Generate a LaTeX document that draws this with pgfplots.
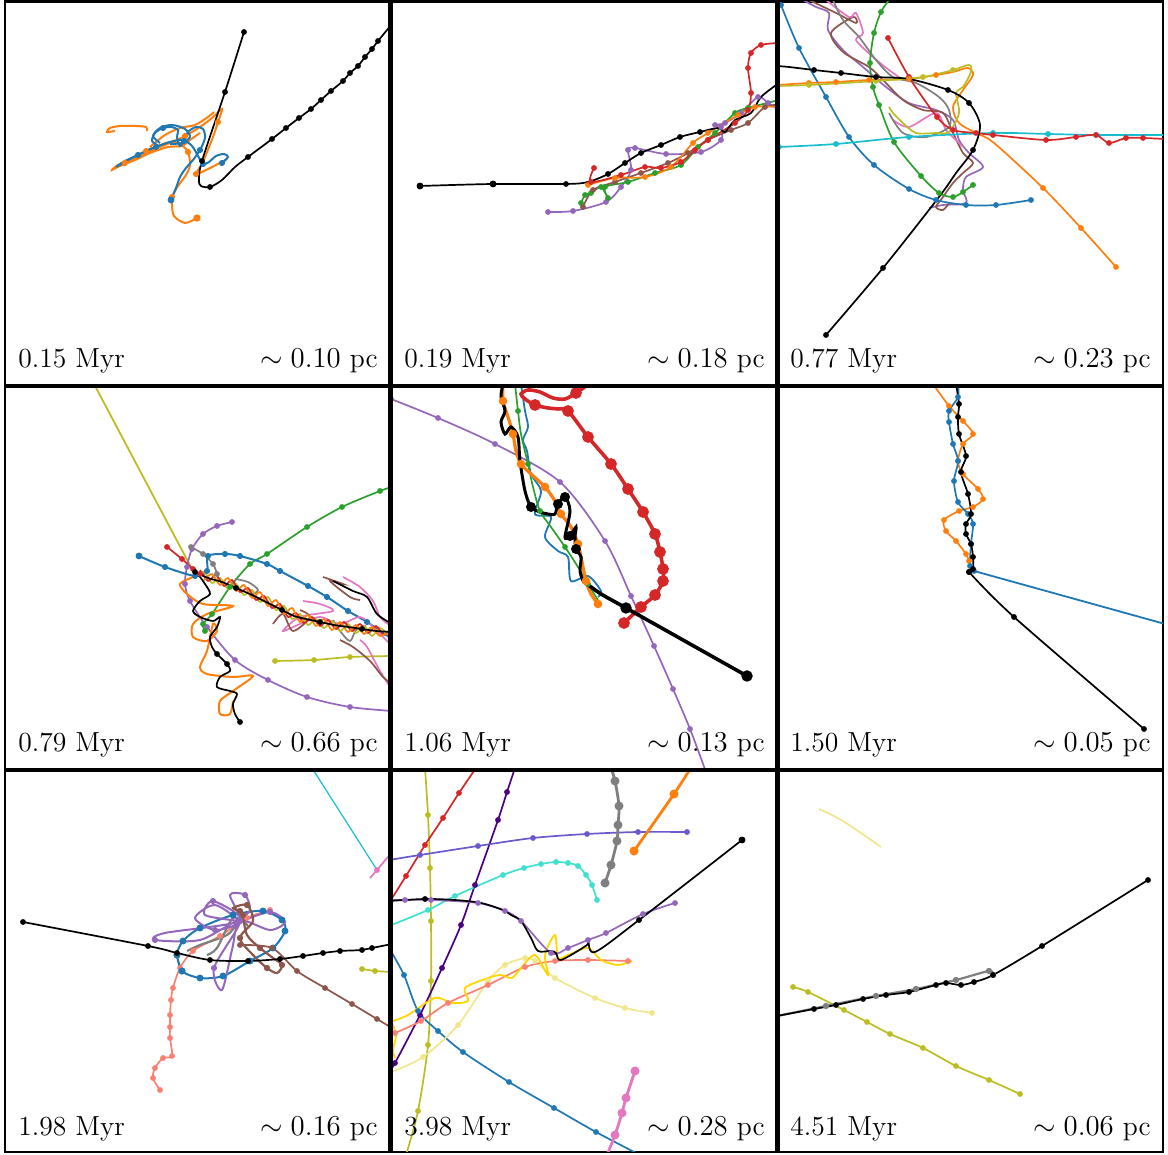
\documentclass[border=0pt]{standalone}
\usepackage{pgfplots}
\pgfplotsset{compat=1.18}

% matplotlib-like palette
\definecolor{tblue}{HTML}{1F77B4}
\definecolor{torange}{HTML}{FF7F0E}
\definecolor{tgreen}{HTML}{2CA02C}
\definecolor{tred}{HTML}{D62728}
\definecolor{tpurple}{HTML}{9467BD}
\definecolor{tbrown}{HTML}{8C564B}
\definecolor{tpink}{HTML}{E377C2}
\definecolor{tgray}{HTML}{7F7F7F}
\definecolor{tolive}{HTML}{BCBD22}
\definecolor{tcyan}{HTML}{17BECF}
\definecolor{csalmon}{HTML}{FA8072}
\definecolor{cgold}{HTML}{FFD700}
\definecolor{ckhaki}{HTML}{F0E68C}
\definecolor{cturq}{HTML}{40E0D0}
\definecolor{cindigo}{HTML}{4B0082}
\definecolor{cslate}{HTML}{6A5ACD}

\pgfplotsset{
  base/.style={anchor=south west, scale only axis, y dir=reverse,
    xtick=\empty, ytick=\empty, axis line style={line width=1.3pt}, clip=true},
  trj/.style={smooth, line width=0.85pt, mark=*, mark size=1pt},
  tng/.style={smooth, line width=0.85pt, mark=none},
  thk/.style={smooth, line width=1.4pt, mark=*, mark size=1.7pt},
}
\tikzset{lab/.style={font=\fontsize{13.8}{16}\selectfont, inner sep=0pt}}

\begin{document}
\begin{tikzpicture}

% ---------------- row 1, panel 1 ----------------
\begin{axis}[base, at={(2.5pt,384.5pt)}, width=192.75pt, height=192.25pt,
  xmin=5, xmax=390.5, ymin=1.5, ymax=386]
\addplot[tng, torange, line width=1pt, mark=*, mark size=1pt, mark repeat=4] coordinates {
 (197,218) (185,223) (174,216) (172,205) (172,197) (178,186) (186,175) (190,165)
 (188,152) (180,144) (170,142) (158,146) (146,151) (132,158) (118,165) (112,170)
 (125,163) (140,156) (155,149) (170,143) (185,136) (200,127) (212,118) (222,109)
 (218,122) (213,137) (207,152) (202,164) (196,174) (206,170) (216,165) (226,160)};
\addplot[tng, torange, line width=1pt] coordinates {
 (147,131) (146,127) (135,126) (120,126) (110,128) (107,132) (115,131)};
\addplot[tng, torange, line width=1pt] coordinates {
 (150,147) (165,135) (180,128) (195,125) (208,117) (214,112)};
\addplot[tng, torange, line width=1pt] coordinates {
 (117,167) (135,160) (150,153) (168,147) (182,146) (190,140) (200,133)};
\addplot[only marks, mark=*, mark size=1.6pt, torange] coordinates {(197,218)};
\addplot[tng, tblue, line width=1pt, mark=*, mark size=1pt, mark repeat=5] coordinates {
 (171,200) (176,188) (180,177) (186,168) (193,160) (200,150) (205,138) (203,129)
 (196,127) (188,132) (184,141) (180,146) (177,137) (178,130) (171,127) (163,128)
 (155,133) (152,141) (158,146) (150,149) (138,155) (125,161) (116,167) (128,160)
 (142,153) (156,147) (170,142) (183,140) (192,146) (198,156) (203,164) (209,162)
 (216,156) (224,154) (228,157) (222,163)};
\addplot[tng, tblue, line width=1pt] coordinates {
 (160,143) (153,136) (160,128) (172,125) (185,129) (190,137) (182,143) (170,144)};
\addplot[only marks, mark=*, mark size=1.5pt, tblue] coordinates {(171,200)};
\addplot[trj, black, mark indices={1,2,3,6,9,10,11,12,13,14,15,16,17,18,19,20,21}] coordinates {
 (244,32) (225,92) (202,161) (199,180) (201,186) (210,187) (222,180) (235,167)
 (248,157) (272,139) (286,128) (299,118) (311,109) (321,100) (331,91) (343,81)
 (350,73) (358,66) (365,57) (372,49) (378,41) (392,24)};
\node[lab, anchor=base west] at (axis cs:18,368) {0.15 Myr};
\node[lab, anchor=base east] at (axis cs:378,368) {$\sim 0.10$ pc};
\end{axis}

% ---------------- row 1, panel 2 ----------------
\begin{axis}[base, at={(195.25pt,384.5pt)}, width=193.5pt, height=192.25pt,
  xmin=390.5, xmax=777.5, ymin=1.5, ymax=386]
\addplot[trj, tpurple] coordinates {
 (548,212) (573,211) (606,202) (621,187) (631,170) (628,150) (635,148) (666,154)
 (701,152) (721,140) (721,127) (715,125) (725,123) (741,113) (758,97) (768,103) (779,110)};
\addplot[trj, tgreen] coordinates {
 (581,203) (585,195) (591,193) (601,187) (608,198) (605,187) (628,182) (655,173)
 (681,165) (698,147) (715,133) (735,113) (748,108) (779,100)};
\addplot[trj, tbrown] coordinates {
 (583,207) (593,190) (615,182) (641,173) (668,163) (688,153) (708,140) (731,130)
 (748,123) (765,107) (779,105)};
\addplot[trj, torange] coordinates {
 (588,185) (615,178) (645,177) (671,167) (693,143) (708,133) (738,115) (755,107) (779,107)};
\addplot[trj, tred] coordinates {
 (594,168) (591,182) (621,175) (645,167) (661,168) (681,162) (695,150) (708,140)
 (735,123) (748,110) (751,93) (748,68) (751,53) (761,45) (779,43)};
\addplot[trj, black, mark indices={1,2,3,5,6,7,8,9,10}] coordinates {
 (420,186) (493,184) (566,184) (588,182) (608,174) (625,163) (641,153) (661,145)
 (680,137) (700,132) (718,128) (725,132) (735,120) (751,113) (761,97) (779,83)};
\addplot[only marks, mark=*, mark size=1.5pt, black] coordinates {(420,186) (493,184)};
\node[lab, anchor=base west] at (axis cs:404,368) {0.19 Myr};
\node[lab, anchor=base east] at (axis cs:765,368) {$\sim 0.18$ pc};
\end{axis}

% ---------------- row 1, panel 3 ----------------
\begin{axis}[base, at={(388.75pt,384.5pt)}, width=192.75pt, height=192.25pt,
  xmin=777.5, xmax=1163, ymin=1.5, ymax=386]
\addplot[tng, tpurple] coordinates {
 (803,0) (816,7) (829,13) (828,30) (843,50) (863,67) (886,87) (909,103) (936,110)
 (953,120) (959,140) (969,153) (983,167) (966,177) (963,190) (966,203) (943,205) (929,208)};
\addplot[tng, tbrown] coordinates {
 (809,0) (836,13) (856,23) (853,17) (831,33) (843,52) (869,67) (883,80) (903,100)
 (923,110) (943,113) (953,133) (963,153) (973,163) (963,173) (953,183) (943,197)
 (936,207) (943,210) (949,203)};
\addplot[tng, tpink] coordinates {
 (826,0) (849,17) (856,13) (863,33) (856,40) (873,57) (889,70) (903,80)};
\addplot[tng, tpink] coordinates {
 (893,120) (909,127) (936,113) (946,130) (956,140) (963,147)};
\addplot[tng, tgray] coordinates {
 (833,0) (843,20) (859,37) (876,60) (893,77) (916,83) (939,97) (949,110) (949,127)
 (926,137) (903,133) (889,113)};
\addplot[trj, tblue] coordinates {
 (781,5) (799,48) (826,97) (849,137) (874,165) (909,189) (936,200) (966,205) (996,205) (1031,200)};
\addplot[trj, tgreen] coordinates {
 (889,0) (881,12) (874,33) (870,63) (873,87) (879,105) (894,142) (921,176) (939,193)
 (953,197) (963,192) (973,185)};
\addplot[trj, tcyan] coordinates {
 (779,147) (836,144) (909,137) (993,133) (1048,134) (1096,135) (1165,135)};
\addplot[trj, tred] coordinates {
 (888,38) (909,77) (937,117) (953,130) (976,133) (993,135) (1046,140) (1076,137)
 (1096,135) (1109,143) (1126,138) (1143,138) (1165,139)};
\addplot[trj, torange, mark indices={1,2,3,4,5,14,15,16,17}] coordinates {
 (777,85) (809,83) (836,82) (869,80) (909,79) (936,75) (953,72) (968,68) (973,75)
 (963,90) (953,107) (959,123) (976,133) (994,143) (1043,188) (1081,228) (1116,267)};
\addplot[trj, tolive, mark indices={1,2,3,4}] coordinates {
 (777,86) (809,85) (876,81) (923,77) (953,70) (969,65) (971,72) (963,87) (956,93)
 (959,113) (949,132) (936,133) (916,133) (903,123) (893,113) (889,107)};
\addplot[trj, black, mark indices={2,3,4,6,7,9,12,13,14}] coordinates {
 (777,66) (789,67) (814,70) (841,73) (876,77) (909,79) (948,90) (969,103) (980,125)
 (973,150) (956,173) (939,197) (883,268) (826,335)};
\node[lab, anchor=base west] at (axis cs:790,368) {0.77 Myr};
\node[lab, anchor=base east] at (axis cs:1151,368) {$\sim 0.23$ pc};
\end{axis}

% ---------------- row 2, panel 1 ----------------
\begin{axis}[base, at={(2.5pt,192.5pt)}, width=192.75pt, height=192pt,
  xmin=5, xmax=390.5, ymin=386, ymax=770]
\addplot[line width=0.9pt, tolive] coordinates {(94,384) (193,571)};
\addplot[trj, tolive] coordinates {(275,661) (314,660) (350,657) (392,656)};
\addplot[trj, tpurple] coordinates {
 (232,522) (217,526) (203,534) (192,549) (187,567) (185,584) (190,601) (207,627)
 (235,660) (268,680) (307,697) (350,707) (392,711)};
\addplot[trj, tgreen] coordinates {
 (205,631) (203,624) (212,614) (230,587) (250,564) (267,554) (307,527) (342,507) (380,491) (392,487)};
\addplot[trj, tblue, line width=1pt] coordinates {
 (139,556) (165,567) (195,576) (207,571) (208,556) (225,554) (240,556) (267,564)
 (280,571) (308,586) (327,597) (348,611) (367,622) (392,639)};
\addplot[only marks, mark=*, mark size=1.5pt, tblue] coordinates {(139,556)};
\addplot[trj, tred] coordinates {(167,547) (182,559) (193,569) (200,574)};
\addplot[trj, tgray] coordinates {(191,547) (203,554) (213,564) (217,574)};
% tangled bundle
\addplot[tng, tpink] coordinates {
 (303,601) (320,604) (333,611) (300,617) (283,631) (300,624) (320,617) (340,624)
 (360,617) (373,627) (383,637) (392,646)};
\addplot[tng, tpink] coordinates {(343,577) (360,587) (373,601) (380,617) (388,624)};
\addplot[tng, tpink] coordinates {(360,640) (367,647) (380,671) (392,690)};
\addplot[tng, tbrown] coordinates {(323,577) (343,584) (330,581) (350,597) (360,600)};
\addplot[tng, tbrown] coordinates {(340,640) (353,647) (370,661) (383,677) (392,684)};
\addplot[tng, tbrown] coordinates {(273,624) (283,614) (293,631) (310,617) (300,610)};
\addplot[tng, tgray] coordinates {(333,620) (340,631) (350,641) (356,630) (366,626)};
\addplot[tng, tgray] coordinates {(235,579) (248,582) (258,590) (250,596)};
\addplot[tng, black] coordinates {(333,581) (353,591) (367,597) (377,614) (392,624)};
\addplot[tng, tolive] coordinates {
 (196,576) (204,572) (212,583) (220,578) (228,589) (236,584) (244,595) (252,590)
 (260,602) (268,597) (276,610) (284,606) (292,619) (300,614) (308,625) (316,619)
 (324,628) (332,621) (340,631) (348,624) (356,633) (364,626) (372,636) (380,628) (392,638)};
\addplot[tng, tred] coordinates {
 (200,570) (208,581) (216,575) (224,586) (232,580) (240,592) (248,588) (256,600)
 (264,596) (272,608) (280,604) (288,617) (296,613) (304,623) (312,617) (320,626)
 (328,620) (336,629) (344,622) (352,631) (360,624) (368,633) (376,626) (384,635) (392,628)};
\addplot[tng, torange] coordinates {
 (204,580) (212,574) (220,585) (228,578) (236,591) (244,585) (252,598) (260,592)
 (268,606) (276,600) (284,614) (292,608) (300,622) (308,615) (316,626) (324,619)
 (332,630) (340,622) (348,632) (356,625) (364,634) (372,627) (380,636) (392,630)};
\addplot[trj, black, mark repeat=3] coordinates {
 (195,572) (208,578) (222,582) (236,588) (252,595) (268,603) (282,610) (294,616)
 (306,619) (320,622) (334,625) (348,627) (362,629) (376,631) (392,632)};
\addplot[tng, torange, line width=1pt] coordinates {
 (203,572) (193,577) (180,584) (187,594) (203,604) (233,606) (207,614) (193,624)
 (193,637) (207,641) (217,631) (213,624) (207,651) (200,667) (207,674) (233,677)
 (253,676) (233,691) (220,701) (220,714) (230,714) (233,701)};
\addplot[trj, black, mark indices={13,14,22}] coordinates {
 (195,572) (200,577) (205,584) (210,594) (200,601) (193,611) (200,617) (213,621)
 (220,617) (217,627) (210,637) (212,647) (217,654) (227,664) (230,671) (220,677)
 (217,687) (230,691) (237,694) (233,704) (235,714) (240,722)};
\node[lab, anchor=base west] at (axis cs:18,752) {0.79 Myr};
\node[lab, anchor=base east] at (axis cs:378,752) {$\sim 0.66$ pc};
\end{axis}

% ---------------- row 2, panel 2 ----------------
\begin{axis}[base, at={(195.25pt,192.5pt)}, width=193.5pt, height=192pt,
  xmin=390.5, xmax=777.5, ymin=386, ymax=770]
\addplot[trj, tpurple] coordinates {
 (391,399) (438,418) (495,444) (560,482) (605,541) (631,596) (654,646) (673,689) (690,729) (706,772)};
\addplot[tng, tblue, line width=0.9pt] coordinates {
 (521,384) (525,411) (528,427) (523,440) (527,451) (531,474) (541,491) (535,514)
 (551,517) (545,537) (558,551) (568,557) (571,581) (588,576) (601,591) (598,597)};
\addplot[trj, tgreen, mark repeat=2] coordinates {
 (515,384) (518,411) (521,434) (528,464) (533,487) (540,511) (551,527) (565,547)
 (578,567) (588,584) (601,605)};
\addplot[thk, torange, line width=1.6pt, mark size=1.3pt, mark repeat=2] coordinates {
 (503,384) (503,401) (508,417) (513,434) (516,451) (521,464) (531,474) (545,487)
 (555,501) (561,514) (571,527) (578,544) (581,557) (586,581) (591,594) (598,604)};
\addplot[thk, tred, line width=1.8pt, mark size=2pt,
  mark indices={1,2,3,4,5,6,7,8,9,10,11,12,15,22}] coordinates {
 (624,623) (641,607) (655,595) (663,581) (663,569) (660,552) (655,534) (643,512)
 (628,489) (611,464) (588,437) (568,411) (558,409) (548,408) (535,405) (525,399)
 (521,394) (528,390) (540,392) (553,398) (565,399) (576,393) (586,386) (590,382)};
\addplot[thk, black, line width=1.5pt, mark indices={4,7,10,11,15}] coordinates {
 (583,581) (580,571) (581,557) (576,549) (575,537) (576,527) (570,536) (565,537)
 (570,511) (565,497) (558,504) (555,514) (548,514) (540,512) (531,507) (525,491)
 (520,461) (518,437) (511,427) (505,434) (501,422) (505,411) (501,397) (503,384)};
\addplot[thk, black, line width=1.8pt, mark size=1.9pt, mark indices={1,2}] coordinates {
 (747,676) (626,608) (601,594) (583,581)};
\node[lab, anchor=base west] at (axis cs:404,752) {1.06 Myr};
\node[lab, anchor=base east] at (axis cs:765,752) {$\sim 0.13$ pc};
\end{axis}

% ---------------- row 2, panel 3 ----------------
\begin{axis}[base, at={(388.75pt,192.5pt)}, width=192.75pt, height=192pt,
  xmin=777.5, xmax=1163, ymin=386, ymax=770]
\addplot[trj, torange] coordinates {
 (933,384) (949,406) (963,421) (973,434) (963,444) (958,461) (963,474) (978,489)
 (983,499) (973,507) (959,511) (944,520) (946,531) (956,541) (966,554) (969,561)};
\addplot[trj, tblue] coordinates {
 (958,384) (958,397) (949,411) (949,422) (953,444) (958,461) (954,481) (958,502)
 (968,514) (973,524) (971,544) (970,566) (974,571)};
\addplot[line width=0.9pt, tblue] coordinates {(974,571) (1165,624)};
\addplot[trj, black] coordinates {
 (956,384) (959,404) (958,417) (959,434) (966,456) (961,472) (968,494) (971,514)
 (966,524) (966,534) (971,544) (973,557) (973,569) (969,572)};
\addplot[trj, black, smooth=false] coordinates {(969,572) (1014,617) (1144,729)};
\node[lab, anchor=base west] at (axis cs:790,752) {1.50 Myr};
\node[lab, anchor=base east] at (axis cs:1151,752) {$\sim 0.05$ pc};
\end{axis}

% ---------------- row 3, panel 1 ----------------
\begin{axis}[base, at={(2.5pt,1.5pt)}, width=192.75pt, height=191pt,
  xmin=5, xmax=390.5, ymin=770, ymax=1152]
\addplot[line width=0.6pt, tcyan] coordinates {(312,768) (377,870)};
\addplot[trj, tpink, mark indices={2}] coordinates {(370,878) (377,870) (392,852)};
\addplot[trj, tolive] coordinates {(362,969) (375,971) (392,972)};
\addplot[trj, csalmon] coordinates {
 (270,910) (247,918) (220,936) (193,951) (180,968) (173,988) (171,1000) (170,1015)
 (170,1027) (170,1038) (172,1056) (163,1058) (155,1068) (153,1078) (160,1090)};
\addplot[trj, tblue, line width=1pt, mark size=1.2pt] coordinates {
 (177,955) (182,971) (200,978) (223,976) (250,961) (273,948) (285,931) (282,920)
 (263,911) (233,915) (200,928) (183,941) (177,955) (182,971)};
\addplot[tng, tgray, line width=1.1pt] coordinates {
 (187,951) (200,945) (227,935) (240,921) (247,925) (233,918) (217,948) (207,955)};
\addplot[trj, tpurple, line width=1pt, mark repeat=3] coordinates {
 (240,921) (215,905) (195,918) (215,930) (240,921) (230,895) (245,895) (250,910)
 (240,921) (270,912) (285,922) (270,930) (240,921) (232,950) (222,990) (214,968)
 (240,921) (200,940) (155,940) (165,933) (240,921) (213,901) (205,915) (240,921)};
\addplot[trj, tbrown, line width=1.1pt, mark repeat=2] coordinates {
 (240,911) (233,908) (247,905) (253,921) (240,938) (253,955) (267,968) (277,973)
 (282,965) (273,958) (260,948) (247,935) (243,915)};
\addplot[trj, tbrown] coordinates {
 (240,945) (272,948) (297,971) (325,988) (352,1004) (377,1019) (392,1028)};
\addplot[trj, black] coordinates {
 (23,922) (148,946) (177,953) (210,960) (248,961) (280,959) (303,956) (323,953)
 (340,951) (362,950) (372,948) (392,944)};
\node[lab, anchor=base west] at (axis cs:18,1136) {1.98 Myr};
\node[lab, anchor=base east] at (axis cs:378,1136) {$\sim 0.16$ pc};
\end{axis}

% ---------------- row 3, panel 2 ----------------
\begin{axis}[base, at={(195.25pt,1.5pt)}, width=193.5pt, height=191pt,
  xmin=390.5, xmax=777.5, ymin=770, ymax=1152]
\addplot[trj, tolive] coordinates {
 (425,768) (428,815) (430,868) (431,921) (431,981) (428,1045) (418,1111) (406,1155)};
\addplot[trj, tred] coordinates {
 (476,768) (459,793) (443,818) (425,845) (406,876) (389,903)};
\addplot[trj, cindigo] coordinates {
 (515,768) (507,792) (498,820) (475,885) (461,925) (442,968) (420,1015) (395,1063) (389,1072)};
\addplot[trj, cslate] coordinates {
 (389,860) (420,855) (478,846) (533,838) (587,834) (638,832) (687,832)};
\addplot[trj, cturq] coordinates {
 (389,926) (428,910) (455,896) (503,875) (524,868) (541,864) (556,862) (568,863)
 (578,866) (586,875) (592,885) (597,900)};
\addplot[thk, tgray, mark size=1.5pt] coordinates {
 (611,768) (615,781) (619,806) (618,825) (617,841) (611,865) (605,883)};
\addplot[thk, torange, smooth=false, mark size=1.5pt] coordinates {(692,766) (674,794) (634,851)};
\addplot[trj, tblue] coordinates {
 (389,948) (404,975) (418,1011) (438,1031) (463,1052) (509,1082) (554,1108) (596,1132) (640,1155)};
\addplot[thk, tpink, mark size=1.5pt] coordinates {
 (635,1071) (626,1098) (622,1113) (615,1135) (607,1155)};
\addplot[trj, ckhaki] coordinates {
 (389,1073) (423,1057) (458,1025) (488,981) (505,965) (525,958) (535,961) (555,978)
 (595,998) (625,1008) (652,1013)};
\addplot[trj, csalmon] coordinates {
 (395,1033) (421,1021) (448,1003) (488,985) (525,967) (555,961) (588,960) (628,961)};
\addplot[tng, cgold, line width=0.9pt] coordinates {
 (393,1021) (408,1015) (435,998) (452,1003) (468,1001) (465,988) (488,978) (501,975)
 (512,978) (521,968) (535,955) (548,975) (545,955) (555,935) (558,958) (568,955)
 (588,948) (601,960) (618,965) (632,961)};
\addplot[tng, cgold, line width=0.9pt] coordinates {(391,1021) (396,1035) (393,1050) (395,1058)};
\addplot[trj, tpurple] coordinates {
 (675,903) (643,914) (606,933) (588,940) (568,948) (551,953) (521,921) (505,911)
 (478,903) (431,900) (405,900) (389,900)};
\addplot[trj, black, mark indices={1,2,16}] coordinates {
 (742,840) (639,920) (595,952) (588,940) (587,945) (561,960) (556,953) (551,951)
 (538,951) (531,938) (521,921) (511,915) (503,910) (481,903) (455,900) (425,899) (389,901)};
\addplot[only marks, mark=*, mark size=1.5pt, black] coordinates {(742,840)};
\addplot[only marks, mark=*, mark size=1.8pt, tgray] coordinates {(605,883)};
\addplot[only marks, mark=*, mark size=1.8pt, torange] coordinates {(634,851)};
\node[lab, anchor=base west] at (axis cs:404,1136) {3.98 Myr};
\node[lab, anchor=base east] at (axis cs:765,1136) {$\sim 0.28$ pc};
\end{axis}

% ---------------- row 3, panel 3 ----------------
\begin{axis}[base, at={(388.75pt,1.5pt)}, width=192.75pt, height=191pt,
  xmin=777.5, xmax=1163, ymin=770, ymax=1152]
\addplot[tng, ckhaki] coordinates {(819,809) (843,821) (881,847)};
\addplot[trj, tolive] coordinates {
 (793,987) (808,992) (844,1010) (867,1022) (890,1034) (923,1048) (956,1066) (989,1080) (1020,1094)};
\addplot[trj, tgray, line width=1.1pt] coordinates {
 (777,1016) (826,1006) (876,996) (916,989) (956,980) (989,971) (993,975)};
\addplot[trj, black, mark indices={2,3,4,5,6,7,8,9,10,11,12,13,14}] coordinates {
 (777,1016) (793,1013) (814,1009) (836,1005) (863,999) (886,995) (909,992) (936,985)
 (946,983) (961,985) (974,982) (993,975) (1042,946) (1148,880)};
\node[lab, anchor=base west] at (axis cs:790,1136) {4.51 Myr};
\node[lab, anchor=base east] at (axis cs:1151,1136) {$\sim 0.06$ pc};
\end{axis}

% heavier rules between the columns and rows
\draw[line width=2.6pt] (195.25pt,1.5pt) -- (195.25pt,576.75pt);
\draw[line width=2.6pt] (388.75pt,1.5pt) -- (388.75pt,576.75pt);
\draw[line width=1.8pt] (2.5pt,384.5pt) -- (581.5pt,384.5pt);
\draw[line width=1.8pt] (2.5pt,192.5pt) -- (581.5pt,192.5pt);

\pgfresetboundingbox
\useasboundingbox (0pt,0pt) rectangle (584pt,577.5pt);
\end{tikzpicture}
\end{document}
